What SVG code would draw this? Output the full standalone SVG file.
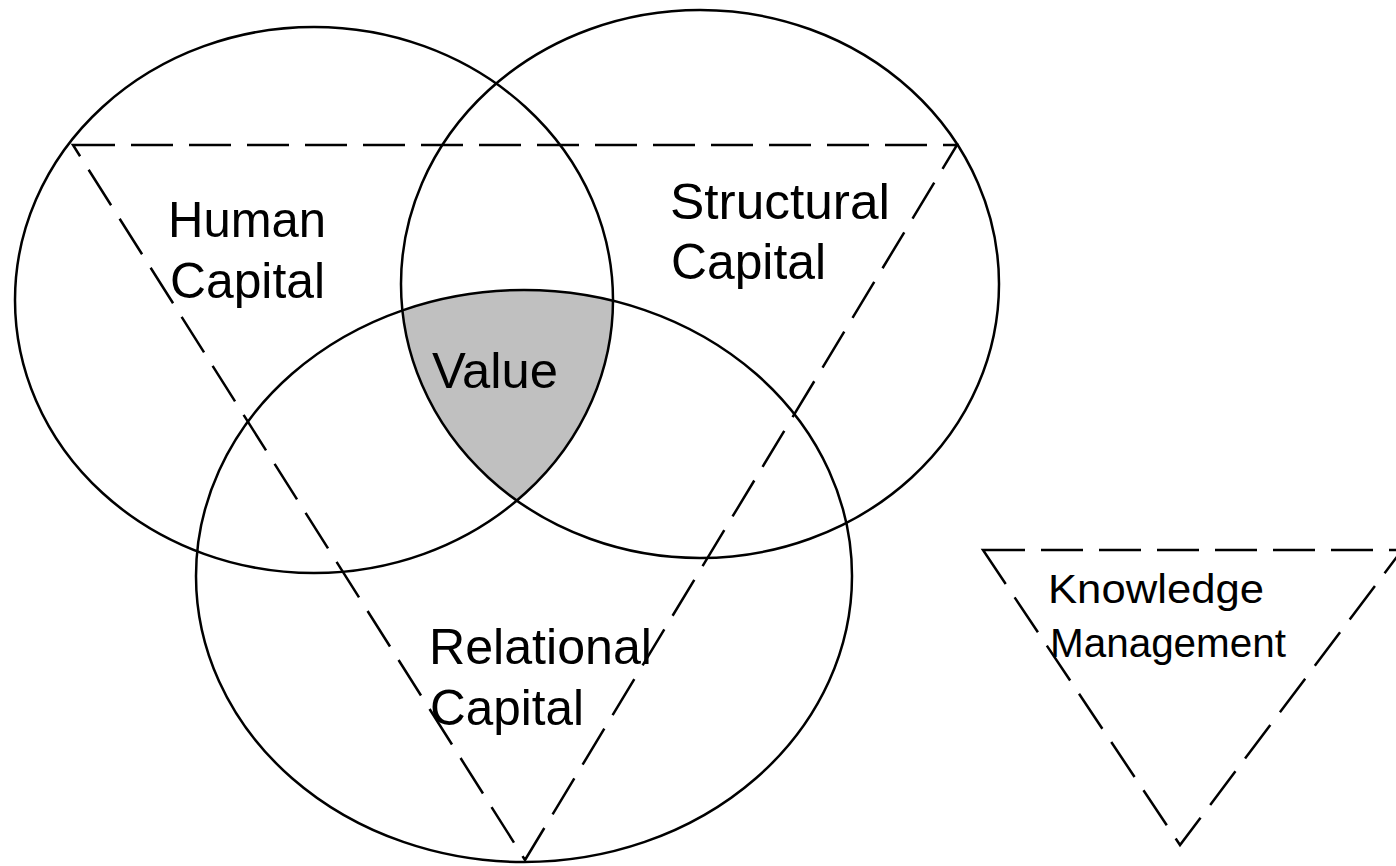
<svg xmlns="http://www.w3.org/2000/svg" width="1396" height="866" viewBox="0 0 1396 866">
  <style>
    .ring { fill: none; stroke: #000; stroke-width: 2.5; }
    .dash { fill: none; stroke: #000; stroke-width: 2.5; stroke-dasharray: 42 16; stroke-linejoin: miter; }
    .lbl { font-family: "Liberation Sans", Arial, sans-serif; font-size: 50px; fill: #000; }
    .lbl-s { font-family: "Liberation Sans", Arial, sans-serif; font-size: 40px; fill: #000; }
  </style>
  <defs>
    <clipPath id="clipHuman"><ellipse cx="314" cy="300" rx="299" ry="273"/></clipPath>
    <clipPath id="clipStruct"><ellipse cx="700" cy="284" rx="299" ry="274"/></clipPath>
  </defs>
  <rect x="0" y="0" width="1396" height="866" fill="#fff"/>

  <g id="value-region" clip-path="url(#clipHuman)">
    <ellipse cx="524" cy="576" rx="328" ry="286" fill="#c0c0c0" clip-path="url(#clipStruct)"/>
  </g>

  <g id="human-capital">
    <ellipse class="ring" cx="314" cy="300" rx="299" ry="273"/>
    <text class="lbl" x="168" y="237" textLength="158" lengthAdjust="spacingAndGlyphs">Human</text>
    <text class="lbl" x="170" y="298" textLength="155" lengthAdjust="spacingAndGlyphs">Capital</text>
  </g>

  <g id="structural-capital">
    <ellipse class="ring" cx="700" cy="284" rx="299" ry="274"/>
    <text class="lbl" x="670" y="219" textLength="220" lengthAdjust="spacingAndGlyphs">Structural</text>
    <text class="lbl" x="671" y="279" textLength="155" lengthAdjust="spacingAndGlyphs">Capital</text>
  </g>

  <g id="relational-capital">
    <ellipse class="ring" cx="524" cy="576" rx="328" ry="286"/>
    <text class="lbl" x="429" y="664" textLength="223" lengthAdjust="spacingAndGlyphs">Relational</text>
    <text class="lbl" x="430" y="725" textLength="154" lengthAdjust="spacingAndGlyphs">Capital</text>
  </g>

  <g id="value">
    <text class="lbl" x="432" y="388" textLength="126" lengthAdjust="spacingAndGlyphs">Value</text>
  </g>

  <g id="connectors">
    <polygon class="dash" points="73,145 957,145 525,860"/>
    <polygon class="dash" points="983,550 1402,550 1180,845"/>
  </g>

  <g id="knowledge-management">
    <text class="lbl-s" x="1048" y="603" textLength="216" lengthAdjust="spacingAndGlyphs">Knowledge</text>
    <text class="lbl-s" x="1050" y="657" textLength="236" lengthAdjust="spacingAndGlyphs">Management</text>
  </g>
</svg>
